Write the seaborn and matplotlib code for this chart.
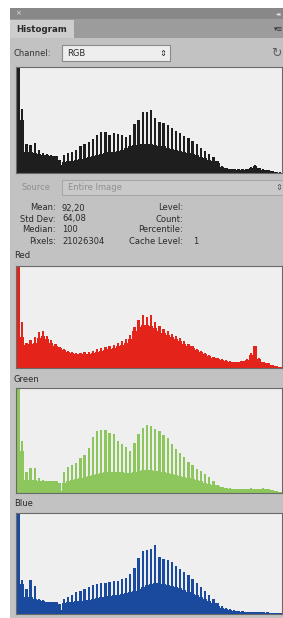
import matplotlib
matplotlib.use("Agg")
import matplotlib.pyplot as plt
import seaborn as sns
from matplotlib.patches import Rectangle

# histogram levels (bins of 4 levels, 0..255), heights in % of the box
levels = list(range(0, 256, 4))

rgb_base = [100, 50, 20, 20, 19, 18, 17, 17, 16, 16, 8, 10, 11, 11, 12, 13,
            14, 15, 16, 17, 18, 19, 20, 20, 21, 22, 24, 25, 26, 27, 27, 27,
            27, 26, 25, 25, 24, 23, 22, 21, 20, 19, 18, 17, 15, 14, 12, 11,
            9, 6, 5, 4, 4, 3, 3, 4, 5, 7, 5, 3, 3, 2, 1, 0]
rgb_peak = [100, 60, 27, 26, 28, 22, 19, 18, 17, 16, 12, 17, 19, 20, 22, 25,
            27, 29, 32, 36, 39, 39, 36, 38, 37, 36, 34, 36, 46, 50, 58, 58,
            59, 52, 48, 47, 45, 42, 40, 38, 35, 33, 30, 27, 24, 21, 18, 15,
            11, 7, 5, 4, 4, 4, 4, 4, 6, 8, 5, 4, 3, 2, 1, 1]

red_base = [100, 30, 23, 24, 25, 29, 31, 28, 25, 22, 20, 18, 16, 15, 14, 14,
            14, 14, 15, 16, 17, 18, 19, 20, 22, 23, 25, 28, 36, 40, 42, 42,
            41, 39, 36, 34, 32, 30, 28, 26, 24, 22, 20, 18, 16, 14, 12, 10,
            9, 8, 7, 6, 6, 6, 7, 8, 13, 22, 9, 6, 5, 3, 2, 1]
red_peak = [100, 45, 25, 27, 30, 35, 36, 31, 27, 24, 21, 19, 17, 16, 15, 15,
            16, 16, 17, 19, 20, 21, 22, 23, 25, 26, 28, 32, 40, 47, 52, 50,
            52, 45, 41, 38, 36, 33, 31, 29, 26, 24, 22, 19, 17, 15, 13, 11,
            10, 9, 8, 7, 6, 6, 7, 9, 15, 22, 10, 6, 5, 3, 2, 1]

green_base = [100, 40, 12, 12, 12, 11, 11, 11, 11, 11, 2, 10, 11, 12, 13, 14,
              15, 16, 17, 18, 19, 20, 20, 20, 20, 20, 19, 19, 20, 21, 22, 22,
              22, 21, 21, 20, 19, 18, 17, 16, 15, 14, 13, 12, 11, 10, 9, 8,
              7, 6, 5, 4, 4, 4, 4, 4, 4, 4, 4, 4, 4, 3, 2, 1]
green_peak = [100, 50, 20, 24, 24, 14, 12, 11, 11, 11, 10, 20, 25, 27, 29, 33,
              36, 43, 53, 59, 60, 60, 57, 56, 50, 47, 44, 40, 48, 56, 62, 65,
              64, 61, 59, 55, 52, 47, 42, 38, 34, 30, 27, 23, 21, 18, 15, 11,
              8, 6, 5, 5, 4, 4, 4, 4, 5, 4, 4, 5, 4, 3, 2, 1]

blue_base = [100, 30, 17, 17, 15, 14, 13, 12, 12, 12, 4, 11, 12, 12, 13, 13,
             14, 14, 15, 16, 17, 17, 18, 19, 19, 20, 21, 22, 23, 25, 27, 29,
             30, 31, 31, 30, 29, 28, 27, 26, 24, 22, 20, 19, 17, 15, 13, 11,
             8, 6, 5, 4, 3, 3, 2, 2, 2, 2, 2, 2, 1, 1, 1, 1]
blue_peak = [100, 34, 25, 34, 28, 15, 14, 12, 12, 12, 10, 15, 17, 19, 22, 23,
             25, 27, 29, 30, 31, 31, 32, 33, 33, 35, 36, 40, 46, 55, 62, 63,
             64, 68, 56, 54, 53, 51, 48, 45, 42, 39, 35, 31, 27, 23, 19, 15,
             11, 8, 6, 5, 4, 3, 3, 2, 2, 2, 2, 2, 2, 1, 1, 1]

stat_labels = ["Mean:", "Std Dev:", "Median:", "Pixels:"]
stat_values = ["92,20", "64,08", "100", "21026304"]
info_labels = ["Level:", "Count:", "Percentile:", "Cache Level:"]
info_values = ["", "", "", "1"]

W, H = 283, 618

sns.set_style("white")
plt.rcParams["font.family"] = ["DejaVu Sans"]

fig = plt.figure(figsize=(W / 100, H / 100), dpi=100)
fig.patch.set_facecolor("white")

# background axes in pixel coordinates for the panel chrome
bg = fig.add_axes([0, 0, 1, 1])
bg.set_xlim(0, W)
bg.set_ylim(H, 0)
bg.axis("off")


def rect(x0, y0, x1, y1, fc, ec="none", lw=0.8):
    bg.add_patch(Rectangle((x0, y0), x1 - x0, y1 - y0, facecolor=fc, edgecolor=ec, linewidth=lw))


def txt(x, y, s, **kw):
    kw.setdefault("fontsize", 6)
    kw.setdefault("color", "#2a2a2a")
    bg.text(x, y, s, va="center", **kw)


rect(10, 8, W, H, "#c2c2c2")
rect(10, 8, W, 19, "#888888")
rect(10, 19, W, 38, "#9c9c9c")
rect(10, 20, 74, 38, "#cdcdcd")
txt(15, 13.5, "×", fontsize=5, color="#e0e0e0")
txt(279, 13.5, "◂◂", fontsize=4, color="#e0e0e0", ha="center")
txt(16, 29.5, "Histogram", fontweight="bold", fontsize=6.2)
txt(279, 29.5, "▾≡", fontsize=5, color="#303030", ha="center")

# channel row
txt(14, 53, "Channel:", color="#333333")
rect(62, 45, 170, 61, "#eeeeee", ec="#8a8a8a")
txt(67, 53, "RGB")
txt(163, 53, "⇕", ha="center", fontsize=6)
txt(276, 53, "↻", ha="center", fontsize=9, color="#606060")

# source row
txt(22, 187.5, "Source", color="#8f8f8f")
rect(62, 180, W, 195, "#c9c9c9", ec="#a8a8a8")
txt(68, 187.5, "Entire Image", color="#8f8f8f")
txt(279, 187.5, "⇕", ha="center", fontsize=6, color="#555555")

# stats
rows_y = [208, 219, 230, 242]
for y, lab, val, lab2, val2 in zip(rows_y, stat_labels, stat_values, info_labels, info_values):
    txt(56, y, lab, ha="right")
    txt(62, y, val)
    txt(183, y, lab2, ha="right")
    txt(193, y, val2)

txt(14, 256, "Red")
txt(14, 379, "Green")
txt(14, 503, "Blue")


def draw_hist(box, base, peak, color):
    x0, y0, x1, y1 = box
    ax = fig.add_axes([x0 / W, 1 - y1 / H, (x1 - x0) / W, (y1 - y0) / H])
    sns.histplot(x=levels, weights=peak, binwidth=4, binrange=(0, 256), shrink=0.55,
                 color=color, alpha=1, linewidth=0, ax=ax)
    sns.histplot(x=levels, weights=base, binwidth=4, binrange=(0, 256),
                 color=color, alpha=1, linewidth=0, ax=ax)
    ax.set_xlim(0, 256)
    ax.set_ylim(0, 100)
    ax.set_facecolor("#efefef")
    ax.set(xticks=[], yticks=[], xlabel="", ylabel="")
    for s in ax.spines.values():
        s.set_visible(True)
        s.set_color("#6a6a6a")
        s.set_linewidth(0.8)
    return ax


draw_hist((16, 67, 282, 173), rgb_base, rgb_peak, "#1e1e1e")
draw_hist((16, 266, 282, 368), red_base, red_peak, "#e4231a")
draw_hist((16, 388, 282, 493), green_base, green_peak, "#8cc65c")
draw_hist((16, 513, 282, 614), blue_base, blue_peak, "#1a4a9e")

fig.savefig("out.png", dpi=100)
plt.close("all")
